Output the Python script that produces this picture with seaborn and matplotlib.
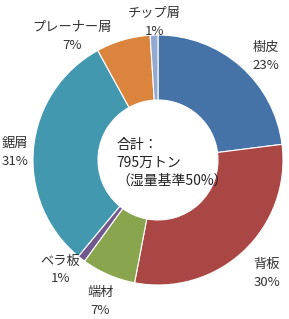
import matplotlib.pyplot as plt
import seaborn as sns

# 木材残材の内訳
categories = ['樹皮', '背板', '端材', 'ベラ板', '鋸屑', 'プレーナー屑', 'チップ屑']
shares = [23, 30, 7, 1, 31, 7, 1]
colors = ['#4572A7', '#AA4643', '#89A54E', '#71588F', '#4198AF', '#DB843D', '#93A9CF']
center_text = '合計：\n795万トン\n（湿量基準50%）'

sns.set_theme(style='white')
plt.rcParams['font.family'] = ['Noto Sans CJK JP', 'DejaVu Sans']

fig = plt.figure(figsize=(2.89, 3.19), dpi=100)
# center of donut ~ (158, 160) px, radius ~125 px
ax = fig.add_axes([(158 - 125) / 289, (319 - 160 - 125) / 319, 250 / 289, 250 / 319])

labels = [f'{c}\n{s}%' for c, s in zip(categories, shares)]
wedges, texts = ax.pie(
    shares,
    labels=labels,
    colors=colors,
    startangle=90,
    counterclock=False,
    labeldistance=1.2,
    wedgeprops=dict(width=0.52, edgecolor='white', linewidth=0.8),
    textprops=dict(fontsize=9.5, color='#333333', ha='center', va='center',
                   linespacing=1.5),
)

# label placement as in the Excel original (data units, radius = 1)
label_pos = [(0.86, 0.83), (0.87, -0.91), (-0.46, -1.13), (-0.78, -0.88),
             (-1.14, 0.06), (-0.69, 0.99), (-0.03, 1.10)]
for t, pos in zip(texts, label_pos):
    t.set_horizontalalignment('center')
    t.set_position(pos)

ax.text(-0.33, -0.02, center_text, ha='left', va='center', fontsize=10,
        color='#222222', linespacing=1.35)

ax.set_xlim(-1, 1)
ax.set_ylim(-1, 1)
ax.set_aspect('equal')
ax.axis('off')

fig.savefig('out.png', dpi=100)
